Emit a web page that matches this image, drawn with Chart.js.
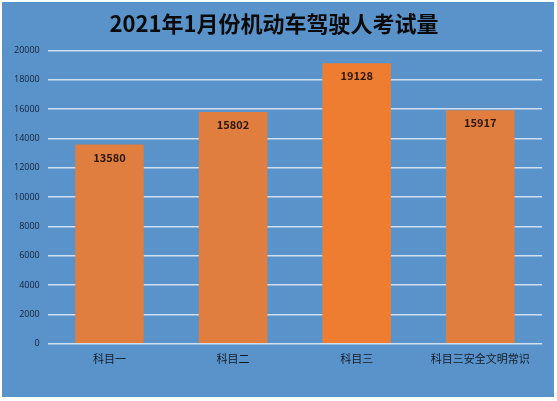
<!DOCTYPE html>
<html>
<head>
<meta charset="utf-8">
<script src="https://cdn.jsdelivr.net/npm/chart.js@4/dist/chart.umd.min.js"></script>
<style>
  html, body { margin: 0; padding: 0; background: #ffffff; }
  #wrap { position: absolute; left: 2px; top: 2px; width: 552px; height: 395px; background: #5a93c9; }
</style>
</head>
<body>
<div id="wrap"><canvas id="examChart" width="552" height="395"></canvas></div>
<script>
const categories = ["科目一", "科目二", "科目三", "科目三安全文明常识"];
const examCounts = [13580, 15802, 19128, 15917];
const barColors = ["#df7e3e", "#df7e3e", "#ee7d31", "#df7e3e"];
const titleText = "2021年1月份机动车驾驶人考试量";

const fontFamily = "'Noto Sans CJK SC', 'Noto Sans', sans-serif";

// value labels drawn just inside the top of each bar
const barValueLabels = {
  id: "barValueLabels",
  afterDatasetsDraw(chart) {
    const ctx = chart.ctx;
    const meta = chart.getDatasetMeta(0);
    ctx.save();
    ctx.font = "bold 11px " + fontFamily;
    ctx.fillStyle = "#2a1606";
    ctx.textAlign = "center";
    ctx.textBaseline = "middle";
    meta.data.forEach((bar, i) => {
      ctx.fillText(String(examCounts[i]), bar.x, bar.y + 13);
    });
    ctx.restore();
  }
};

new Chart(document.getElementById("examChart"), {
  type: "bar",
  data: {
    labels: categories,
    datasets: [{
      data: examCounts,
      backgroundColor: barColors,
      borderWidth: 0,
      categoryPercentage: 0.555,
      barPercentage: 1.0
    }]
  },
  options: {
    responsive: false,
    animation: false,
    layout: { padding: { left: 4, right: 12, top: 0, bottom: 24 } },
    plugins: {
      legend: { display: false },
      tooltip: { enabled: false },
      title: {
        display: true,
        text: titleText,
        color: "#0a0a0a",
        font: { family: fontFamily, size: 22, weight: "bold" },
        padding: { top: 8, bottom: 14 }
      }
    },
    scales: {
      x: {
        grid: { display: false, drawTicks: false },
        border: { display: false },
        ticks: {
          color: "#111a26",
          font: { family: fontFamily, size: 11 },
          padding: 8
        }
      },
      y: {
        min: 0,
        max: 20000,
        ticks: {
          stepSize: 2000,
          color: "#13223a",
          font: { family: "'Open Sans', sans-serif", size: 9 },
          padding: 8,
          callback: (v) => String(v)
        },
        grid: { color: "#cfe0f2", lineWidth: 1.5, drawTicks: false },
        border: { display: false }
      }
    }
  },
  plugins: [barValueLabels]
});
</script>
</body>
</html>
